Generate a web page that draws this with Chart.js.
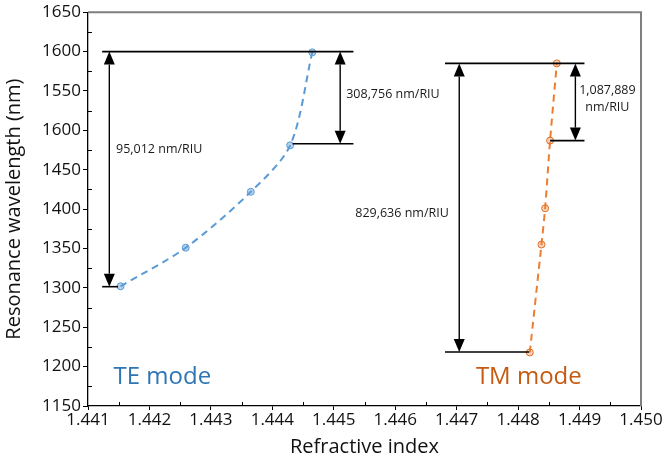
<!DOCTYPE html>
<html>
<head>
<meta charset="utf-8">
<script src="https://cdn.jsdelivr.net/npm/chart.js@4/dist/chart.umd.min.js"></script>
<style>
  html,body{margin:0;padding:0;background:#fff}
  #wrap{width:666px;height:461px}
</style>
</head>
<body>
<div id="wrap"><canvas id="c" width="666" height="461"></canvas></div>
<script>
/* ---- data ---- */
const teIndex      = [1.44153, 1.44259, 1.44365, 1.44429, 1.44465];
const teWavelength = [1302, 1351, 1422, 1481, 1599];
const tmIndex      = [1.44819, 1.44838, 1.44844, 1.44852, 1.44863];
const tmWavelength = [1218, 1355, 1401, 1487, 1585];

const xTicks = [1.441, 1.442, 1.443, 1.444, 1.445, 1.446, 1.447, 1.448, 1.449, 1.450];
const yTicks = [1150, 1200, 1250, 1300, 1350, 1400, 1450, 1500, 1550, 1600, 1650];
// labels as printed on the original figure (1500 is printed as 1600)
const yTickLabels = ['1150','1200','1250','1300','1350','1400','1450','1600','1550','1600','1650'];

// reference lines: [x from, x to, wavelength]
const hLines = [
  [1.44123, 1.44532, 1600],
  [1.44123, 1.44149, 1301.5],
  [1.44433, 1.44532, 1483],
  [1.44681, 1.44908, 1585],
  [1.44681, 1.44818, 1218.5],
  [1.44852, 1.44908, 1487]
];
// double arrows: [x, wavelength top, wavelength bottom]
const arrows = [
  [1.441347, 1600, 1301.5],
  [1.445104, 1600, 1483],
  [1.447042, 1585, 1218.5],
  [1.448932, 1585, 1487]
];
// notes: [text, x, wavelength, align]
const notes = [
  ['95,012 nm/RIU', 1.441456, 1476, 'left'],
  ['308,756 nm/RIU', 1.445202, 1546, 'left'],
  ['829,636 nm/RIU', 1.445350, 1394, 'left'],
  ['1,087,889', 1.449453, 1551, 'center'],
  ['nm/RIU', 1.449453, 1529, 'center']
];
const modeLabels = [
  ['TE mode', 1.441415, 1186, '#2E75B6'],
  ['TM mode', 1.447313, 1186, '#C55A11']
];

const FONT = "'Open Sans', sans-serif";

const annotate = {
  id: 'annotate',
  afterDraw(chart){
    const {ctx, chartArea: a, scales: {x, y}} = chart;
    ctx.save();
    // top / right frame
    ctx.strokeStyle = '#7f7f7f'; ctx.lineWidth = 2;
    ctx.beginPath(); ctx.moveTo(a.left, a.top); ctx.lineTo(a.right, a.top); ctx.lineTo(a.right, a.bottom); ctx.stroke();

    // minor ticks
    ctx.strokeStyle = '#000'; ctx.lineWidth = 1;
    for (let i = 0; i < xTicks.length - 1; i++) {
      const px = Math.round(x.getPixelForValue((xTicks[i] + xTicks[i+1]) / 2)) + .5;
      ctx.beginPath(); ctx.moveTo(px, a.bottom); ctx.lineTo(px, a.bottom - 4); ctx.stroke();
    }
    for (let i = 0; i < yTicks.length - 1; i++) {
      const py = Math.round(y.getPixelForValue((yTicks[i] + yTicks[i+1]) / 2)) + .5;
      ctx.beginPath(); ctx.moveTo(a.left, py); ctx.lineTo(a.left + 4, py); ctx.stroke();
    }

    // horizontal reference lines
    ctx.strokeStyle = '#000'; ctx.lineWidth = 1.6;
    hLines.forEach(([x1, x2, w]) => {
      const py = y.getPixelForValue(w);
      ctx.beginPath(); ctx.moveTo(x.getPixelForValue(x1), py); ctx.lineTo(x.getPixelForValue(x2), py); ctx.stroke();
    });

    // double arrows
    const hl = 13, hw = 5.5;
    arrows.forEach(([xv, w1, w2]) => {
      const px = x.getPixelForValue(xv), p1 = y.getPixelForValue(w1), p2 = y.getPixelForValue(w2);
      ctx.lineWidth = 1.4;
      ctx.beginPath(); ctx.moveTo(px, p1 + hl); ctx.lineTo(px, p2 - hl); ctx.stroke();
      ctx.fillStyle = '#000';
      ctx.beginPath(); ctx.moveTo(px, p1); ctx.lineTo(px - hw, p1 + hl); ctx.lineTo(px + hw, p1 + hl); ctx.closePath(); ctx.fill();
      ctx.beginPath(); ctx.moveTo(px, p2); ctx.lineTo(px - hw, p2 - hl); ctx.lineTo(px + hw, p2 - hl); ctx.closePath(); ctx.fill();
    });

    // notes
    ctx.fillStyle = '#1a1a1a'; ctx.font = '12.5px ' + FONT; ctx.textBaseline = 'middle';
    notes.forEach(([t, xv, w, al]) => {
      ctx.textAlign = al;
      ctx.fillText(t, x.getPixelForValue(xv), y.getPixelForValue(w));
    });
    ctx.font = '24px ' + FONT; ctx.textAlign = 'left';
    modeLabels.forEach(([t, xv, w, col]) => {
      ctx.fillStyle = col;
      ctx.fillText(t, x.getPixelForValue(xv), y.getPixelForValue(w));
    });
    ctx.restore();
  }
};

new Chart(document.getElementById('c'), {
  type: 'scatter',
  data: {
    datasets: [
      { label: 'TE', data: teIndex.map((v, i) => ({x: v, y: teWavelength[i]})), showLine: true,
        borderColor: '#5B9BD5', borderWidth: 2, borderDash: [7, 5], tension: 0.3,
        pointRadius: 3.5, pointBackgroundColor: 'rgba(91,155,213,.45)', pointBorderColor: '#5B9BD5', pointBorderWidth: 1 },
      { label: 'TM', data: tmIndex.map((v, i) => ({x: v, y: tmWavelength[i]})), showLine: true,
        borderColor: '#ED7D31', borderWidth: 2, borderDash: [7, 5], tension: 0.2,
        pointRadius: 3.5, pointBackgroundColor: 'rgba(237,125,49,.35)', pointBorderColor: '#D9712C', pointBorderWidth: 1 }
    ]
  },
  options: {
    responsive: false, animation: false, devicePixelRatio: 1,
    layout: { padding: { top: 11, right: 25, left: 0, bottom: 0 } },
    plugins: { legend: { display: false }, tooltip: { enabled: false } },
    scales: {
      x: {
        type: 'linear', min: 1.441, max: 1.450,
        afterBuildTicks: s => { s.ticks = xTicks.map(v => ({value: v})); },
        afterFit: s => { s.height = 55; },
        ticks: { color: '#111', font: { family: FONT, size: 17 }, padding: 0, maxRotation: 0,
                 callback: v => v.toFixed(3) },
        grid: { display: true, drawOnChartArea: false, drawTicks: true, tickLength: 4, color: '#000' },
        border: { display: true, color: '#000', width: 1.3 },
        title: { display: true, text: 'Refractive index', color: '#111', font: { family: FONT, size: 20 }, padding: { top: 2, bottom: 2 } }
      },
      y: {
        type: 'linear', min: 1150, max: 1650,
        afterBuildTicks: s => { s.ticks = yTicks.map(v => ({value: v})); },
        afterFit: s => { s.width = 88; },
        ticks: { color: '#111', font: { family: FONT, size: 17 }, padding: 2,
                 callback: (v, i) => yTickLabels[i] },
        grid: { display: true, drawOnChartArea: false, drawTicks: true, tickLength: 5, color: '#000' },
        border: { display: true, color: '#000', width: 1.3 },
        title: { display: true, text: 'Resonance wavelength (nm)', color: '#111', font: { family: FONT, size: 20 }, padding: { top: 2, bottom: 2 } }
      }
    }
  },
  plugins: [annotate]
});
</script>
</body>
</html>
